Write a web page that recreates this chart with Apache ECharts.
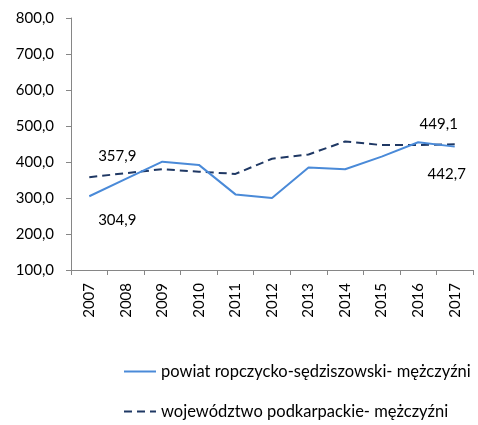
<!DOCTYPE html>
<html>
<head>
<meta charset="utf-8">
<script src="https://cdn.jsdelivr.net/npm/echarts@6/dist/echarts.min.js"></script>
<style>
  html, body { margin: 0; padding: 0; background: #fff; }
  #chart { width: 478px; height: 425px; }
</style>
</head>
<body>
<div id="chart"></div>
<script>
// Years on the category axis
const years = ['2007', '2008', '2009', '2010', '2011', '2012', '2013', '2014', '2015', '2016', '2017'];
// Rate for men in the county
const powiatValues = [304.9, 353, 401, 392, 310, 300, 385, 380, 415, 455, 442.7];
// Rate for men in the voivodeship
const wojValues = [357.9, 369, 380, 373, 367, 409, 421, 457, 447, 447, 449.1];
// Series names shown in the legend
const seriesNames = ['powiat ropczycko-sędziszowski- mężczyźni', 'województwo podkarpackie- mężczyźni'];

const FONT = 'Lato, "Open Sans", sans-serif';
const fmt = v => Number(v).toFixed(1).replace('.', ',');

// Label only the first and last point of a series
function withEndLabels(values, firstOffset, lastOffset, pos) {
  return values.map((v, i) => {
    if (i === 0 || i === values.length - 1) {
      return {
        value: v,
        label: {
          show: true,
          position: pos,
          distance: 13,
          offset: i === 0 ? firstOffset : lastOffset,
          formatter: p => fmt(p.value),
          color: '#000',
          fontSize: 15,
          fontFamily: FONT
        }
      };
    }
    return v;
  });
}

// One legend block per series so each sits on its own row
function legendRow(name, top) {
  return {
    orient: 'horizontal',
    left: 118,
    top: top,
    itemWidth: 32,
    itemHeight: 14,
    itemGap: 6,
    itemStyle: { opacity: 0 },
    textStyle: { color: '#000', fontSize: 16.5, fontFamily: FONT },
    data: [name]
  };
}

const chart = echarts.init(document.getElementById('chart'));
chart.setOption({
  animation: false,
  grid: { left: 71, right: 5, top: 18, bottom: 155, containLabel: false },
  legend: [legendRow(seriesNames[0], 358), legendRow(seriesNames[1], 398)],
  xAxis: {
    type: 'category',
    data: years,
    boundaryGap: true,
    axisLine: { lineStyle: { color: '#868686', width: 1 } },
    axisTick: { show: true, length: 5, alignWithLabel: false, lineStyle: { color: '#868686' } },
    axisLabel: { rotate: 90, color: '#000', fontSize: 15, fontFamily: FONT, margin: 13, interval: 0 }
  },
  yAxis: {
    type: 'value',
    min: 100,
    max: 800,
    interval: 100,
    splitLine: { show: false },
    axisLine: { show: true, lineStyle: { color: '#868686', width: 1 } },
    axisTick: { show: true, length: 5, lineStyle: { color: '#868686' } },
    axisLabel: { color: '#000', fontSize: 15, fontFamily: FONT, margin: 17, formatter: fmt }
  },
  series: [
    {
      name: seriesNames[0],
      type: 'line',
      symbol: 'circle',
      symbolSize: 0,
      showAllSymbol: true,
      data: withEndLabels(powiatValues, [28, 3], [-8, 7], 'bottom'),
      lineStyle: { color: '#4a8ad8', width: 2 },
      itemStyle: { color: '#4a8ad8' },
      z: 3
    },
    {
      name: seriesNames[1],
      type: 'line',
      symbol: 'circle',
      symbolSize: 0,
      showAllSymbol: true,
      data: withEndLabels(wojValues, [28, 0], [-16, 0], 'top'),
      lineStyle: { color: '#1f3864', width: 2, type: [8, 5] },
      itemStyle: { color: '#1f3864' },
      z: 2
    }
  ]
});
</script>
</body>
</html>
